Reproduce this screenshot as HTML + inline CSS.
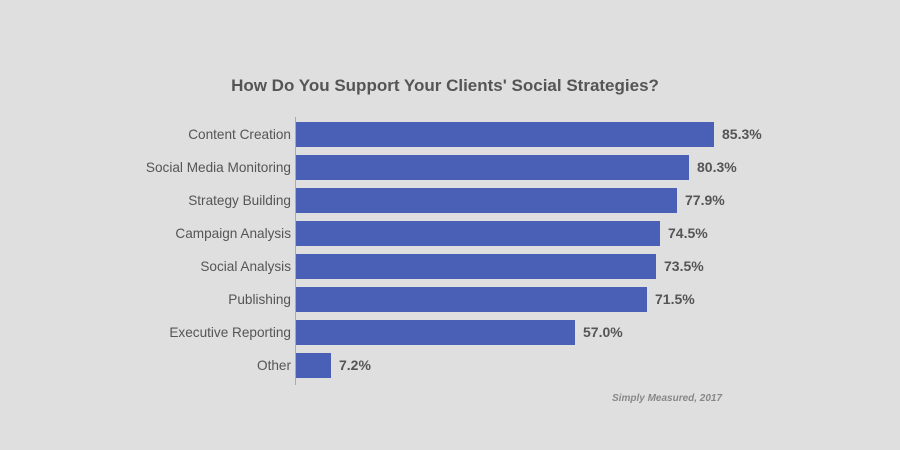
<!DOCTYPE html><html><head><style>
body{margin:0;width:900px;height:450px;background:#dfdfdf;font-family:"Liberation Sans",sans-serif;position:relative;overflow:hidden}
.t{position:absolute;top:76px;left:0;width:890px;text-align:center;font-size:17px;font-weight:bold;color:#555}
.ax{position:absolute;left:295px;top:117px;width:1px;height:268px;background:#aaa}
.b{position:absolute;left:296px;height:25px;background:#4a5fb6}
.l{position:absolute;right:609px;font-size:13.6px;color:#555;line-height:25px;white-space:nowrap}
.v{position:absolute;font-size:14px;font-weight:bold;color:#555;line-height:25px}
.s{position:absolute;left:612px;top:393px;font-size:10px;font-style:italic;font-weight:bold;color:#888}
</style></head><body>
<div class="t">How Do You Support Your Clients' Social Strategies?</div>
<div class="ax"></div>
<div class="l" style="top:122px">Content Creation</div><div class="b" style="top:122px;width:418px"></div><div class="v" style="top:122px;left:722px">85.3%</div>
<div class="l" style="top:155px">Social Media Monitoring</div><div class="b" style="top:155px;width:393px"></div><div class="v" style="top:155px;left:697px">80.3%</div>
<div class="l" style="top:188px">Strategy Building</div><div class="b" style="top:188px;width:381px"></div><div class="v" style="top:188px;left:685px">77.9%</div>
<div class="l" style="top:221px">Campaign Analysis</div><div class="b" style="top:221px;width:364px"></div><div class="v" style="top:221px;left:668px">74.5%</div>
<div class="l" style="top:254px">Social Analysis</div><div class="b" style="top:254px;width:360px"></div><div class="v" style="top:254px;left:664px">73.5%</div>
<div class="l" style="top:287px">Publishing</div><div class="b" style="top:287px;width:351px"></div><div class="v" style="top:287px;left:655px">71.5%</div>
<div class="l" style="top:320px">Executive Reporting</div><div class="b" style="top:320px;width:279px"></div><div class="v" style="top:320px;left:583px">57.0%</div>
<div class="l" style="top:353px">Other</div><div class="b" style="top:353px;width:35px"></div><div class="v" style="top:353px;left:339px">7.2%</div>
<div class="s">Simply Measured, 2017</div>
</body></html>
